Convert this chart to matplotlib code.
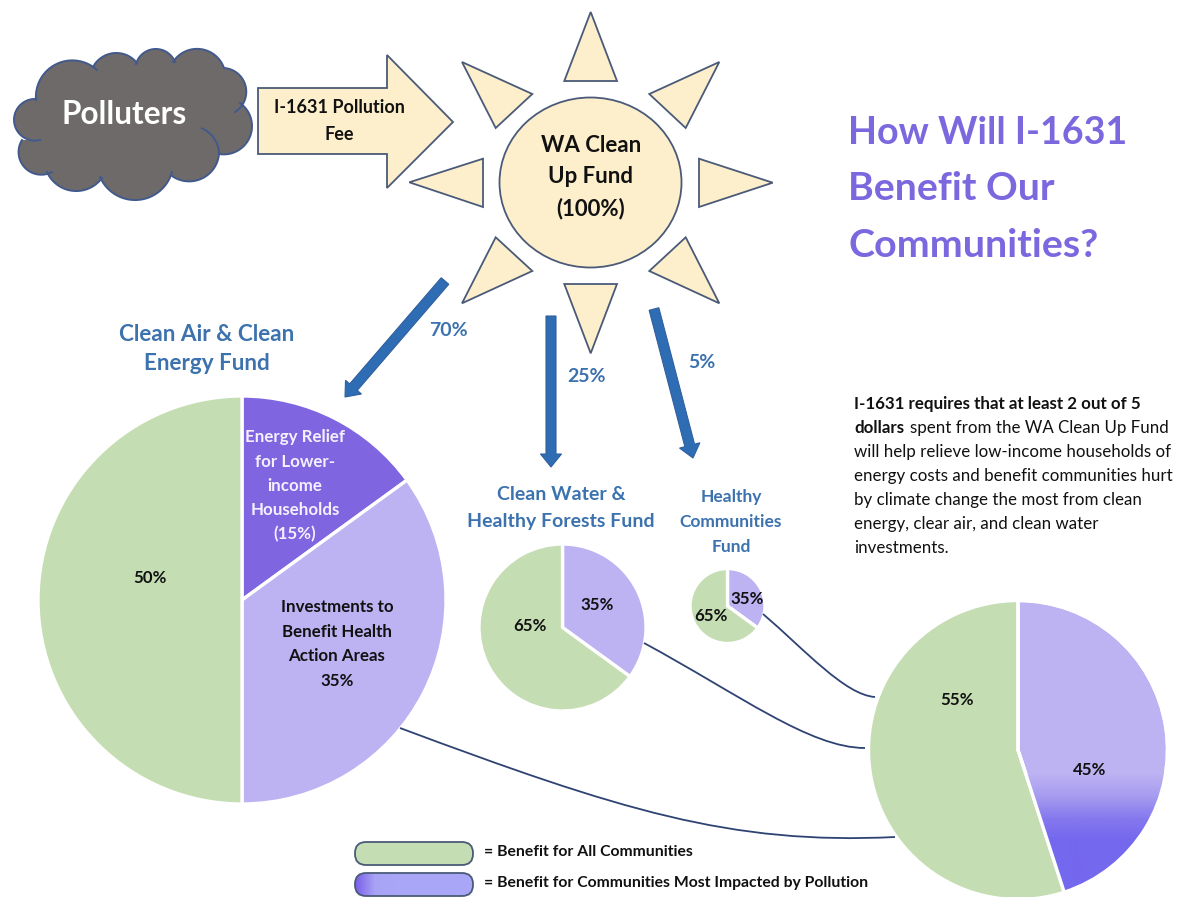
import numpy as np
import matplotlib
matplotlib.use("Agg")
import matplotlib.pyplot as plt
from matplotlib.colors import LinearSegmentedColormap
from matplotlib.patches import Ellipse, FancyBboxPatch, PathPatch, Polygon, Wedge
from matplotlib.path import Path

plt.rcParams["font.family"] = ["Lato", "DejaVu Sans"]

W, H = 1178, 897

# fund splits, clockwise from 12 o'clock
air_energy_values = [15, 35, 50]
water_forest_values = [35, 65]
healthy_comm_values = [35, 65]
overall_values = [45, 55]
split_values = [70, 25, 5]
fund_total = 100

GREEN = "#C5DDB3"
LAVENDER = "#BDB2F2"
PURPLE = "#7F66E0"
TITLE_PURPLE = "#7B68DE"
CREAM = "#FDEFCB"
OUTLINE = "#4A5A78"
BLUE = "#2E6DB4"
HEAD_BLUE = "#3C72AE"
LINK = "#2F4373"
PCT = 12.2

fig = plt.figure(figsize=(W / 100, H / 100), dpi=100, facecolor="white")
ax = fig.add_axes([0, 0, 1, 1])
ax.set_autoscale_on(False)
ax.set_xlim(0, W)
ax.set_ylim(H, 0)  # y runs downward, so pies are drawn counterclock with startangle -90


def pie(values, colors, cx, cy, r):
    wedges, _ = ax.pie(values, colors=colors, center=(cx, cy), radius=r, frame=True,
                       startangle=-90, counterclock=True,
                       wedgeprops={"edgecolor": "white", "linewidth": 2.4})
    return wedges


def label(x, y, s, size=12, color="#111111", weight="bold", **kw):
    kw.setdefault("ha", "center")
    kw.setdefault("va", "center")
    ax.text(x, y, s, fontsize=size, color=color, fontweight=weight, zorder=5, **kw)


def poly(pts, fc=CREAM, ec=OUTLINE, lw=1.3):
    ax.add_patch(Polygon(pts, closed=True, fc=fc, ec=ec, lw=lw, joinstyle="miter", zorder=2))


def curve(p0, c1, c2, p1, color=LINK, lw=1.3):
    path = Path([p0, c1, c2, p1], [Path.MOVETO, Path.CURVE4, Path.CURVE4, Path.CURVE4])
    ax.add_patch(PathPatch(path, fc="none", ec=color, lw=lw, zorder=2))


def down_arrow(start, end):
    ax.arrow(start[0], start[1], end[0] - start[0], end[1] - start[1], width=10, head_width=21,
             head_length=13, length_includes_head=True, fc=BLUE, ec="#2F5F9E", lw=0.8, zorder=3)


def arc(a, m, b, n=30):
    # circular arc through three points
    (ax_, ay), (mx, my), (bx, by) = a, m, b
    d = 2 * (ax_ * (my - by) + mx * (by - ay) + bx * (ay - my))
    ux = ((ax_**2 + ay**2) * (my - by) + (mx**2 + my**2) * (by - ay) + (bx**2 + by**2) * (ay - my)) / d
    uy = ((ax_**2 + ay**2) * (bx - mx) + (mx**2 + my**2) * (ax_ - bx) + (bx**2 + by**2) * (mx - ax_)) / d
    r = np.hypot(ax_ - ux, ay - uy)
    t0 = np.arctan2(ay - uy, ax_ - ux)
    tm = np.arctan2(my - uy, mx - ux)
    t1 = np.arctan2(by - uy, bx - ux)
    # unwrap so the sweep goes through the middle point
    tm = t0 + (tm - t0 + np.pi) % (2 * np.pi) - np.pi
    t1 = tm + (t1 - tm + np.pi) % (2 * np.pi) - np.pi
    t = np.linspace(t0, t1, n)
    return np.column_stack([ux + r * np.cos(t), uy + r * np.sin(t)])


# cloud, one (start, middle, end) triple per lobe
lobes = [
    ((36, 100), (50, 68), (97, 70)),
    ((93, 67), (115, 53), (137, 63)),
    ((136, 64), (157, 49), (175, 62)),
    ((173, 62), (200, 49), (224, 68)),
    ((224, 68), (246, 88), (235, 112)),
    ((240, 103), (252, 125), (219, 154)),
    ((219, 154), (203, 178), (172, 176)),
    ((172, 172), (133, 200), (100, 177)),
    ((102, 178), (78, 191), (47, 172)),
    ((52, 172), (20, 160), (22, 140)),
    ((40, 140), (14, 120), (36, 99)),
]
arcs = [arc(*lobe) for lobe in lobes]
ax.add_patch(Polygon(np.vstack(arcs), closed=True, fc="#6F6A6A", ec="none", zorder=2))
for pts in arcs:
    ax.plot(pts[:, 0], pts[:, 1], color="#41598C", lw=1.4, zorder=2.2)
curve((201, 128), (212, 132), (219, 143), (219, 154), color="#41598C", lw=1.4)
label(124, 114, "Polluters", size=22.7, color="white")

# fee arrow
poly([(258, 88), (387, 88), (387, 55), (453, 122), (387, 188), (387, 154), (258, 154)])
label(339, 121, "I-1631 Pollution\nFee", size=13, linespacing=1.72)

# sun
ax.add_patch(Ellipse((590.5, 182.5), 182, 170, fc=CREAM, ec=OUTLINE, lw=1.3, zorder=2))
rays = [
    [(590.7, 12), (564.3, 81), (617, 81)],
    [(719.3, 62), (649.3, 94), (685.7, 128)],
    [(772.7, 182.7), (699, 158.7), (699, 207)],
    [(719.3, 303.3), (649.3, 271), (685.7, 237.3)],
    [(590.7, 353.3), (564.3, 284), (617, 284)],
    [(462, 303.3), (532.3, 271), (495.7, 237.3)],
    [(409.3, 182.3), (483, 158.7), (483, 207)],
    [(462, 62), (532.3, 94), (495.7, 128)],
]
for ray in rays:
    poly(ray)
label(591, 177, f"WA Clean\nUp Fund\n({fund_total}%)", size=16, linespacing=1.58)

# title, one line at a time because the digits run wide
label(848, 144, "How Will I-1631", size=27.1, color=TITLE_PURPLE, ha="left", va="baseline")
label(848, 200, "Benefit Our", size=28.3, color=TITLE_PURPLE, ha="left", va="baseline")
label(848, 257, "Communities?", size=28.4, color=TITLE_PURPLE, ha="left", va="baseline")

# fund split arrows
down_arrow((445, 281), (345, 397))
down_arrow((551, 316), (551, 467))
down_arrow((654, 309), (693, 458))
label(448, 330, f"{split_values[0]}%", size=14, color=HEAD_BLUE)
label(587, 376, f"{split_values[1]}%", size=14, color=HEAD_BLUE)
label(702, 362, f"{split_values[2]}%", size=14, color=HEAD_BLUE)

# links to the combined pie
curve((400, 728), (620, 810), (730, 845), (895, 837))
curve((644, 643), (740, 695), (810, 748), (865, 748))
curve((763, 614), (805, 650), (845, 695), (875, 697))

# pies
pie(air_energy_values, [PURPLE, LAVENDER, GREEN], 242, 600, 204)
pie(water_forest_values, [LAVENDER, GREEN], 562.5, 627.5, 83.5)
pie(healthy_comm_values, [LAVENDER, GREEN], 727.5, 606, 37.5)
right = pie(overall_values, [LAVENDER, GREEN], 1018, 750, 149.5)

# darker band at the foot of the 45% slice
w = right[0]
ramp = LinearSegmentedColormap.from_list("ramp", [LAVENDER, "#A79CF0", "#8679EE", "#7468EE"])
grad = np.clip(np.linspace(775, 900, 252) - 775, 0, 65).reshape(-1, 1) / 65
im = ax.imshow(grad, extent=(1018, 1170, 900, 775), cmap=ramp, aspect="auto", zorder=1.5,
               interpolation="bilinear")
im.set_clip_path(Wedge(w.center, w.r, w.theta1, w.theta2, transform=ax.transData))
ax.add_patch(Wedge(w.center, w.r, w.theta1, w.theta2, fc="none", ec="white", lw=2.4, zorder=1.6))

# pie titles
label(207, 349, "Clean Air & Clean\nEnergy Fund", size=16.2, color=HEAD_BLUE, linespacing=1.48)
label(561, 508, "Clean Water &\nHealthy Forests Fund", size=14, color=HEAD_BLUE, linespacing=1.67)
label(731, 522, "Healthy\nCommunities\nFund", size=12.5, color=HEAD_BLUE, linespacing=1.66)

# pie labels
label(295, 486, f"Energy Relief\nfor Lower-\nincome\nHouseholds\n({air_energy_values[0]}%)",
      size=PCT, color="#F4F0FF", linespacing=1.63)
label(337, 644, f"Investments to\nBenefit Health\nAction Areas\n{air_energy_values[1]}%",
      size=PCT, linespacing=1.65)
label(150, 578, f"{air_energy_values[2]}%", size=PCT)
label(597, 605, f"{water_forest_values[0]}%", size=PCT)
label(530, 626, f"{water_forest_values[1]}%", size=PCT)
label(747, 599, f"{healthy_comm_values[0]}%", size=PCT)
label(711, 616, f"{healthy_comm_values[1]}%", size=PCT)
label(1090, 770, f"{overall_values[0]}%", size=PCT)
label(957, 700, f"{overall_values[1]}%", size=PCT)

# note
note = 12.2
label(854, 404, "I-1631 requires that at least 2 out of 5", size=note, ha="left")
label(854, 428, "dollars", size=note, ha="left")
label(910, 428, "spent from the WA Clean Up Fund", size=note, weight="normal", ha="left")
label(854, 452, "will help relieve low-income households of", size=note, weight="normal", ha="left")
label(854, 476, "energy costs and benefit communities hurt", size=note, weight="normal", ha="left")
label(854, 500, "by climate change the most from clean", size=note, weight="normal", ha="left")
label(854, 524, "energy, clear air, and clean water", size=note, weight="normal", ha="left")
label(854, 548, "investments.", size=note, weight="normal", ha="left")

# legend
ax.add_patch(FancyBboxPatch((355, 842), 118, 23, boxstyle="round,pad=0,rounding_size=11",
                            fc=GREEN, ec=OUTLINE, lw=1.3, zorder=2))
pill = FancyBboxPatch((355, 873), 118, 23, boxstyle="round,pad=0,rounding_size=11",
                      fc="none", ec=OUTLINE, lw=1.3, zorder=2.5)
ax.add_patch(pill)
ramp2 = LinearSegmentedColormap.from_list("ramp2", ["#7A5FEA", "#A9A3F5", "#A9A6F7"])
im2 = ax.imshow(np.clip(np.linspace(0, 1, 118) * 3, 0, 1).reshape(1, -1), extent=(355, 473, 896, 873),
                cmap=ramp2, aspect="auto", zorder=2, interpolation="bilinear")
im2.set_clip_path(pill)
label(484, 852, "= Benefit for All Communities", size=11.3, ha="left")
label(484, 883, "= Benefit for Communities Most Impacted by Pollution", size=11.3, ha="left")

ax.set_xlim(0, W)
ax.set_ylim(H, 0)
ax.set_aspect("auto")
ax.axis("off")
fig.savefig("out.png", dpi=100)
